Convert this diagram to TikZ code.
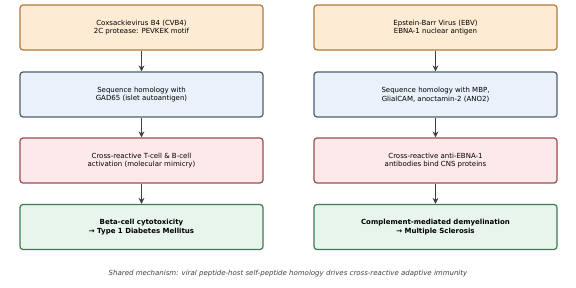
\documentclass[tikz,border=0pt]{standalone}
\usepackage{fontspec}
\setmainfont{DejaVu Sans}
\usetikzlibrary{arrows.meta}
\definecolor{virfill}{HTML}{FDEBD4}
\definecolor{virdraw}{HTML}{B07A3C}
\definecolor{homfill}{HTML}{EAF1FB}
\definecolor{homdraw}{HTML}{4C5F73}
\definecolor{crossfill}{HTML}{FDE9E9}
\definecolor{crossdraw}{HTML}{9C4B52}
\definecolor{outfill}{HTML}{E8F5EC}
\definecolor{outdraw}{HTML}{3F7A52}
\definecolor{arrowcol}{HTML}{404040}
\tikzset{
  stagebox/.style={draw, rounded corners=3pt, line width=1.2pt, minimum width=243pt,
    minimum height=45pt, align=center, font=\fontsize{7}{8.8}\selectfont, text=black},
  flow/.style={draw=arrowcol, line width=1.4pt, -{Stealth[length=6pt,width=6pt]}}
}
\begin{document}
\begin{tikzpicture}[x=1pt,y=1pt]
	\useasboundingbox (0,0) rectangle (576,287);
	% left column: CVB4
	\node[stagebox, fill=virfill, draw=virdraw] (cvb) at (141.5,259.5) {Coxsackievirus B4 (CVB4)\\2C protease: PEVKEK motif};
	\node[stagebox, fill=homfill, draw=homdraw] (gad) at (141.5,192.5) {Sequence homology with\\GAD65 (islet autoantigen)};
	\node[stagebox, fill=crossfill, draw=crossdraw] (tcell) at (141.5,126.5) {Cross-reactive T-cell \& B-cell\\activation (molecular mimicry)};
	\node[stagebox, fill=outfill, draw=outdraw, font=\fontsize{7}{8.8}\selectfont\bfseries] (tdm) at (141.5,60) {Beta-cell cytotoxicity\\→ Type 1 Diabetes Mellitus};
	% right column: EBV
	\node[stagebox, fill=virfill, draw=virdraw] (ebv) at (435.5,259.5) {Epstein-Barr Virus (EBV)\\EBNA-1 nuclear antigen};
	\node[stagebox, fill=homfill, draw=homdraw] (mbp) at (435.5,192.5) {Sequence homology with MBP,\\GlialCAM, anoctamin-2 (ANO2)};
	\node[stagebox, fill=crossfill, draw=crossdraw] (ebna) at (435.5,126.5) {Cross-reactive anti-EBNA-1\\antibodies bind CNS proteins};
	\node[stagebox, fill=outfill, draw=outdraw, font=\fontsize{7}{8.8}\selectfont\bfseries] (ms) at (435.5,60) {Complement-mediated demyelination\\→ Multiple Sclerosis};
	% arrows
	\draw[flow] (cvb) -- (gad);
	\draw[flow] (gad) -- (tcell);
	\draw[flow] (tcell) -- (tdm);
	\draw[flow] (ebv) -- (mbp);
	\draw[flow] (mbp) -- (ebna);
	\draw[flow] (ebna) -- (ms);
	\node[font=\fontsize{7}{8.8}\selectfont\itshape, text=arrowcol] (note) at (288,13) {Shared mechanism: viral peptide-host self-peptide homology drives cross-reactive adaptive immunity};
\end{tikzpicture}
\end{document}
